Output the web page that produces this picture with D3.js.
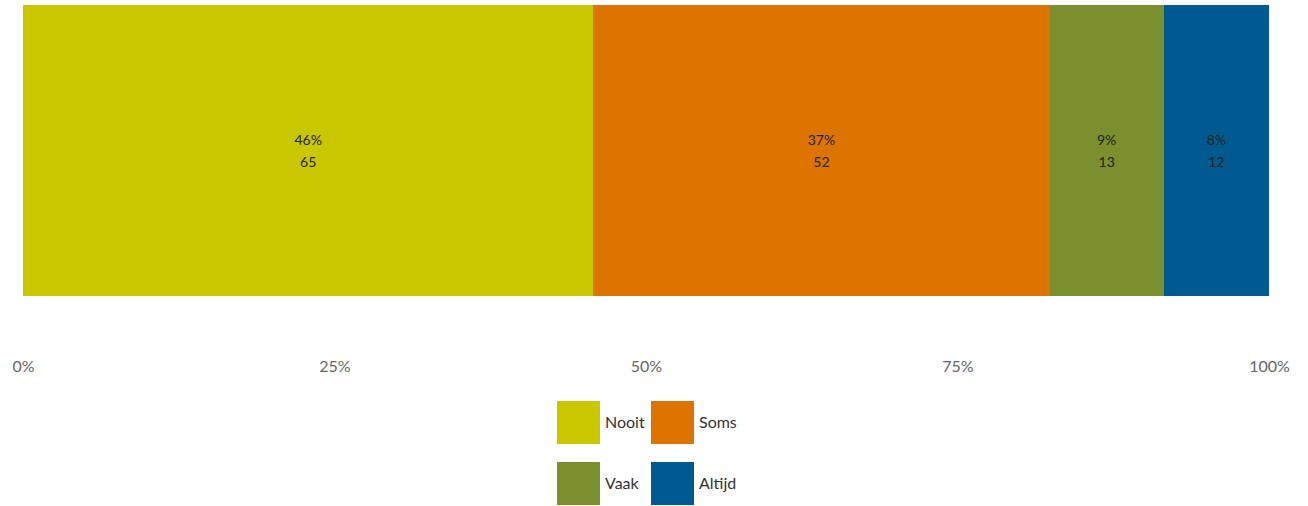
<!DOCTYPE html>
<html lang="nl">
<head>
<meta charset="UTF-8">
<title>Verdeling</title>
<script src="https://cdn.jsdelivr.net/npm/d3@7"></script>
<style>
  body { margin: 0; background: #fff; }
  svg { display: block; font-family: Lato, "Open Sans", sans-serif; }
</style>
</head>
<body>
<div id="chart"></div>
<script>
// data
const categories = ["Nooit", "Soms", "Vaak", "Altijd"];
const counts = [65, 52, 13, 12];
const colors = ["#C9C700", "#DE7400", "#7B8F2E", "#005A90"];
const tickValues = [0, 0.25, 0.5, 0.75, 1];

const width = 1308, height = 506;
const margin = {top: 5, right: 39, left: 23};
const barBottom = 296;

const total = d3.sum(counts);
let acc = 0;
const stacked = categories.map((c, i) => {
  const d = {cat: c, n: counts[i], x0: acc / total, x1: (acc + counts[i]) / total, color: colors[i]};
  acc += counts[i];
  return d;
});

const svg = d3.select("#chart").append("svg")
  .attr("width", width)
  .attr("height", height);

const x = d3.scaleLinear().domain([0, 1]).range([margin.left, width - margin.right]);
const y = d3.scaleBand().domain(["bar"]).range([margin.top, barBottom]);

svg.append("g").selectAll("rect")
  .data(stacked)
  .enter().append("rect")
  .attr("x", d => Math.round(x(d.x0)))
  .attr("y", y("bar"))
  .attr("width", d => Math.round(x(d.x1)) - Math.round(x(d.x0)))
  .attr("height", y.bandwidth())
  .attr("shape-rendering", "crispEdges")
  .attr("fill", d => d.color);

const labels = svg.append("g").selectAll("text")
  .data(stacked)
  .enter().append("text")
  .attr("x", d => x((d.x0 + d.x1) / 2))
  .attr("text-anchor", "middle")
  .style("font-size", "14px")
  .style("fill", "#222");
labels.append("tspan")
  .attr("x", d => x((d.x0 + d.x1) / 2))
  .attr("y", 145)
  .text(d => Math.round(d.n / total * 100) + "%");
labels.append("tspan")
  .attr("x", d => x((d.x0 + d.x1) / 2))
  .attr("y", 167)
  .text(d => d.n);

const axis = svg.append("g")
  .attr("transform", "translate(0,360)")
  .call(d3.axisBottom(x).tickValues(tickValues).tickFormat(d3.format(".0%")).tickSize(0));
axis.select(".domain").remove();
axis.selectAll("text")
  .attr("dy", 0)
  .attr("y", 12)
  .style("font-family", "Lato, 'Open Sans', sans-serif")
  .style("font-size", "16px")
  .style("fill", "#666");

// legend 2x2
const legend = svg.append("g");
const cols = [557, 651], rows = [401, 462];
const item = legend.selectAll("g")
  .data(stacked)
  .enter().append("g")
  .attr("transform", (d, i) => `translate(${cols[i % 2]},${rows[Math.floor(i / 2)]})`);
item.append("rect")
  .attr("width", 43)
  .attr("height", 43)
  .attr("fill", d => d.color);
item.append("text")
  .attr("x", 48)
  .attr("y", 27)
  .style("font-size", "16px")
  .style("fill", "#333")
  .text(d => d.cat);
</script>
</body>
</html>
